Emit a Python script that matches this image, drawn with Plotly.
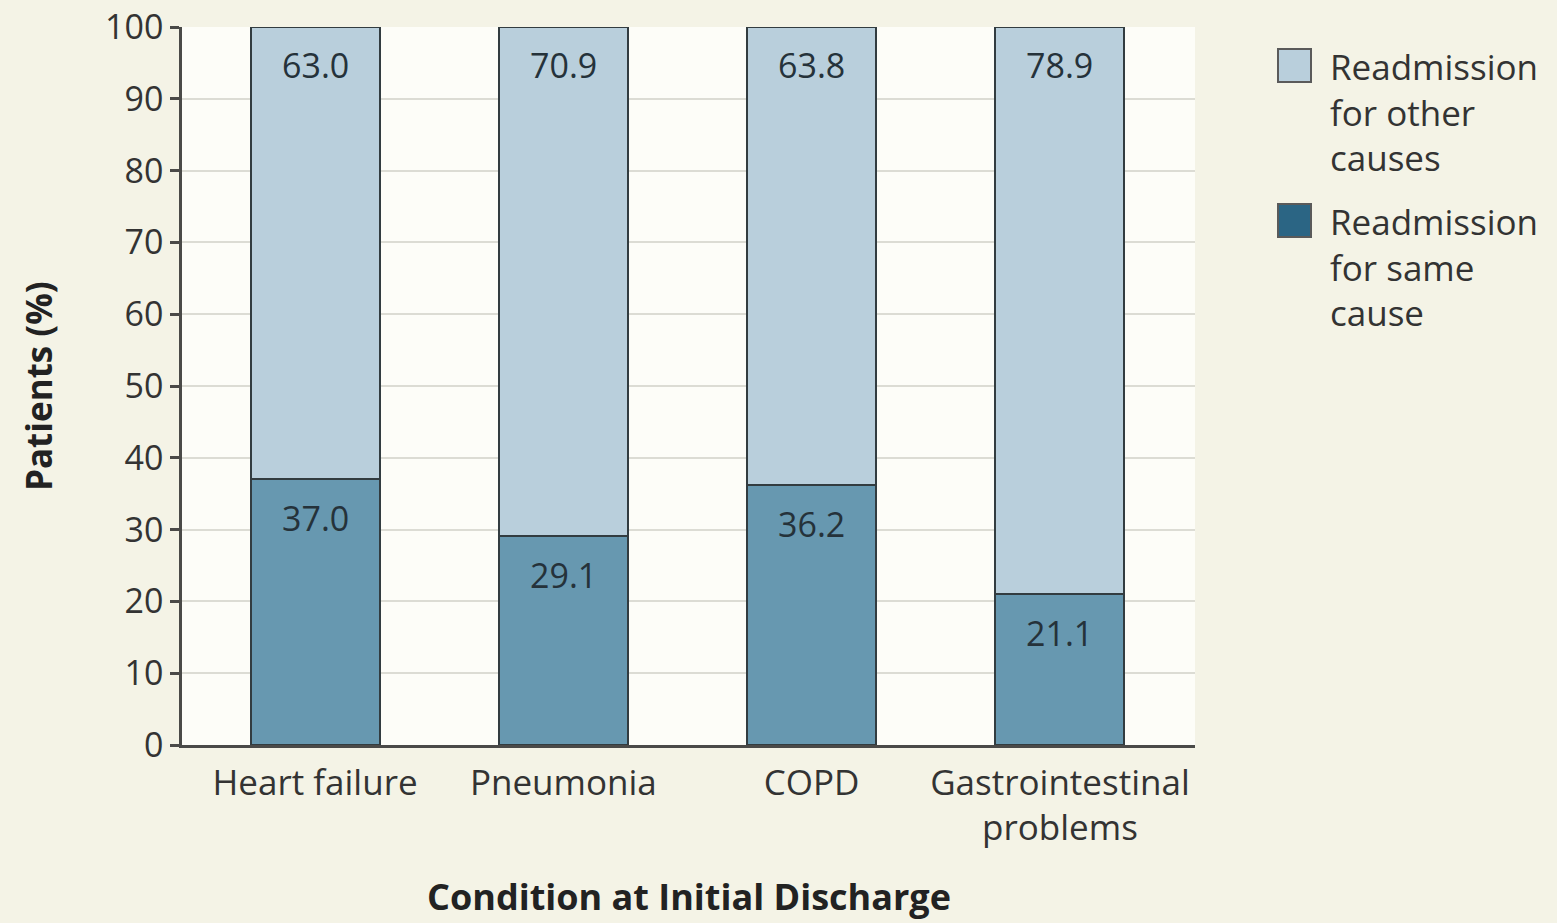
import plotly.graph_objects as go

categories = ["Heart failure", "Pneumonia", "COPD", "Gastrointestinal<br>problems"]
same_cause = [37.0, 29.1, 36.2, 21.1]
other_causes = [63.0, 70.9, 63.8, 78.9]
y_ticks = [0, 10, 20, 30, 40, 50, 60, 70, 80, 90, 100]
legend_labels = ["Readmission<br>for other<br>causes", "Readmission<br>for same<br>cause"]

FONT = "Open Sans"
C_LIGHT = "#b9cfdc"
C_DARK = "#6798b0"
C_DARK_LEG = "#2b6584"
EDGE = "#323c40"
TXT = "#333333"
LBL = "#25323a"

L, R, T, B = 182, 362, 27, 178
PW, PH = 1557 - L - R, 923 - T - B


def px_x(p):
    return (p - L) / PW


def px_y(p):
    return (923 - B - p) / PH


x = list(range(len(categories)))

fig = go.Figure()
fig.add_trace(go.Bar(x=x, y=same_cause, name="Readmission for same cause",
                     marker=dict(color=C_DARK, line=dict(color=EDGE, width=2)),
                     width=0.52, showlegend=False))
fig.add_trace(go.Bar(x=x, y=other_causes, name="Readmission for other causes",
                     marker=dict(color=C_LIGHT, line=dict(color=EDGE, width=2)),
                     width=0.52, showlegend=False))

anns = []
for i in x:
    anns.append(dict(x=i, y=same_cause[i], xref="x", yref="y", text=f"{same_cause[i]:.1f}",
                     showarrow=False, yshift=-39, yanchor="middle",
                     font=dict(family=FONT, size=34, color=LBL)))
    tot = same_cause[i] + other_causes[i]
    anns.append(dict(x=i, y=tot, xref="x", yref="y", text=f"{other_causes[i]:.1f}",
                     showarrow=False, yshift=-38, yanchor="middle",
                     font=dict(family=FONT, size=34, color=LBL)))

# axis titles
anns.append(dict(x=px_x(38), y=0.5, xref="paper", yref="paper", text="<b>Patients (%)</b>",
                 textangle=-90, showarrow=False, xanchor="center", yanchor="middle",
                 font=dict(family=FONT, size=35, color="#222")))
anns.append(dict(x=0.5, y=px_y(897), xref="paper", yref="paper",
                 text="<b>Condition at Initial Discharge</b>",
                 showarrow=False, xanchor="center", yanchor="middle",
                 font=dict(family=FONT, size=36, color="#222")))

# legend drawn as swatches + text
shapes = []
leg_colors = [C_LIGHT, C_DARK_LEG]
leg_tops = [49, 204]
for lab, col, top in zip(legend_labels, leg_colors, leg_tops):
    shapes.append(dict(type="rect", xref="paper", yref="paper",
                       x0=px_x(1278), x1=px_x(1311), y0=px_y(top + 33), y1=px_y(top),
                       fillcolor=col, line=dict(color="#5a5a5a", width=2)))
    anns.append(dict(x=px_x(1328), y=px_y(top + 16 + 47), xref="paper", yref="paper",
                     text=lab, showarrow=False, xanchor="left", yanchor="middle", align="left",
                     font=dict(family=FONT, size=35, color=TXT)))

fig.update_layout(
    template="none",
    width=1557, height=923,
    margin=dict(l=L, r=R, t=T, b=B, autoexpand=False),
    paper_bgcolor="#f4f3e6",
    plot_bgcolor="#fdfdf8",
    barmode="stack",
    showlegend=False,
    annotations=anns,
    shapes=shapes,
    font=dict(family=FONT, color=TXT),
)
fig.update_xaxes(range=[-0.536, 3.544], tickmode="array", tickvals=x, ticktext=categories,
                 tickfont=dict(family=FONT, size=35, color=TXT), showline=True,
                 linecolor="#4a4a48", linewidth=2.5, ticks="", showgrid=False,
                 zeroline=False, automargin=False, ticklabelstandoff=5)
fig.update_yaxes(range=[0, 100], tickmode="array", tickvals=y_ticks,
                 tickfont=dict(family=FONT, size=34, color=TXT), showline=True,
                 linecolor="#4a4a48", linewidth=2.5, ticks="outside", ticklen=9,
                 tickwidth=2.5, tickcolor="#4a4a48",
                 showgrid=True, gridcolor="#dcdcd4", gridwidth=2, zeroline=False,
                 automargin=False)

fig.write_html("out.html", config={"displayModeBar": False},
               post_script="document.body.style.margin='0';")
